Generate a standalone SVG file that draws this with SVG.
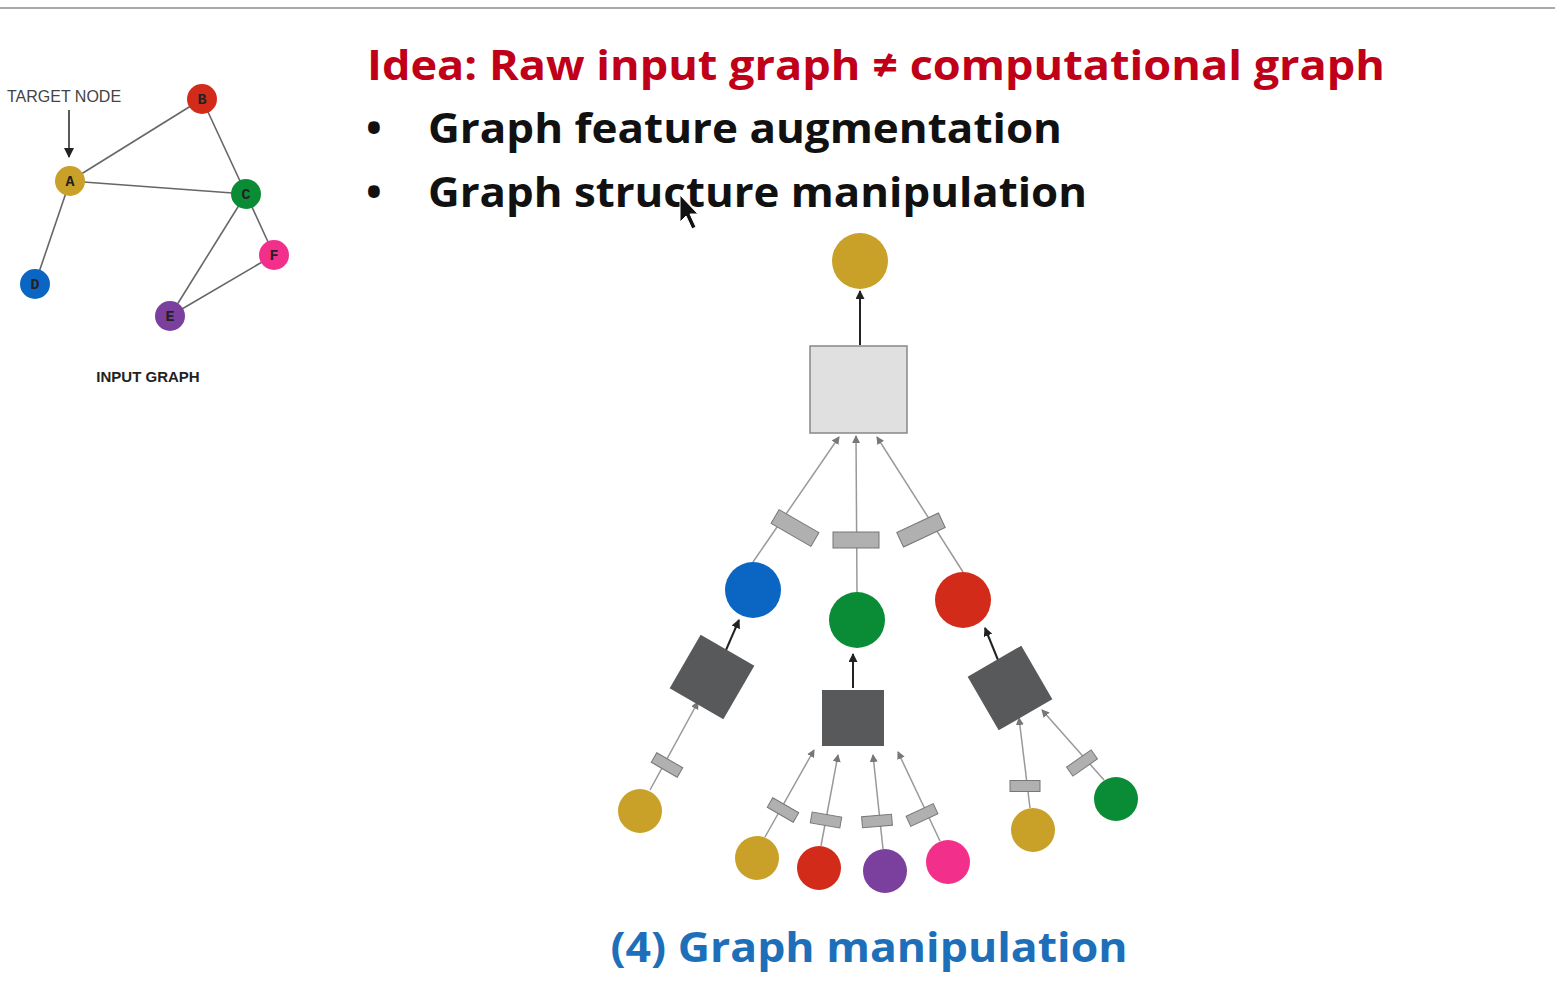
<svg xmlns="http://www.w3.org/2000/svg" width="1555" height="985" viewBox="0 0 1555 985">
<style>
.ge{stroke:#666;stroke-width:1.6;fill:none}
.lt{font-family:"Liberation Mono",monospace;font-weight:bold;font-size:15px;text-anchor:middle;fill:#222}
.c{stroke:#999;stroke-width:1.5;fill:none;marker-end:url(#ga)}
.d{stroke:#222;stroke-width:2;fill:none;marker-end:url(#da)}
.lab{fill:#b0b0b0;stroke:#777;stroke-width:1}
.sq{fill:#58595b}
.h{font-family:"Open Sans","Liberation Sans",sans-serif;font-weight:bold;font-size:42px}
</style>
<defs>
<marker id="ga" markerWidth="8" markerHeight="8" refX="7" refY="4" orient="auto" markerUnits="userSpaceOnUse"><path d="M0,0L8,4L0,8z" fill="#777"/></marker>
<marker id="da" markerWidth="9" markerHeight="9" refX="8" refY="4.5" orient="auto" markerUnits="userSpaceOnUse"><path d="M0,0L9,4.5L0,9z" fill="#222"/></marker>
<marker id="ka" markerWidth="10" markerHeight="10" refX="9" refY="5" orient="auto" markerUnits="userSpaceOnUse"><path d="M0,0L10,5L0,10z" fill="#222"/></marker>
</defs>
<rect width="1555" height="985" fill="#fff"/>
<line x1="0" y1="8" x2="1555" y2="8" stroke="#aaa" stroke-width="2"/>

<g id="input-graph">
<g class="ge"><line x1="70" y1="181" x2="202" y2="99"/><line x1="70" y1="181" x2="246" y2="194"/><line x1="202" y1="99" x2="246" y2="194"/><line x1="70" y1="181" x2="35" y2="284"/><line x1="246" y1="194" x2="274" y2="255"/><line x1="246" y1="194" x2="170" y2="316"/><line x1="274" y1="255" x2="170" y2="316"/></g>
<text x="7" y="102" font-family="Liberation Sans,sans-serif" font-size="16" fill="#444">TARGET NODE</text>
<line x1="69" y1="110" x2="69" y2="157" stroke="#222" stroke-width="1.5" marker-end="url(#ka)"/>
<g id="nB"><circle cx="202" cy="99" r="15" fill="#d22b1a"/><text class="lt" x="202" y="104">B</text></g>
<g id="nA"><circle cx="70" cy="181" r="15" fill="#c9a028"/><text class="lt" x="70" y="186">A</text></g>
<g id="nC"><circle cx="246" cy="194" r="15" fill="#0a8c36"/><text class="lt" x="246" y="199">C</text></g>
<g id="nF"><circle cx="274" cy="255" r="15" fill="#f2308c"/><text class="lt" x="274" y="260">F</text></g>
<g id="nD"><circle cx="35" cy="284" r="15" fill="#0a66c2"/><text class="lt" x="35" y="289">D</text></g>
<g id="nE"><circle cx="170" cy="316" r="15" fill="#7b3f9e"/><text class="lt" x="170" y="321">E</text></g>
<text x="148" y="382" text-anchor="middle" font-family="Liberation Sans,sans-serif" font-weight="bold" font-size="15" fill="#222">INPUT GRAPH</text>
</g>

<text class="h" x="367" y="80" fill="#c00018" textLength="1018" lengthAdjust="spacingAndGlyphs">Idea: Raw input graph ≠ computational graph</text>
<text class="h" x="366" y="143" fill="#111">•</text>
<text class="h" x="428" y="143" fill="#111" textLength="634" lengthAdjust="spacingAndGlyphs">Graph feature augmentation</text>
<text class="h" x="366" y="207" fill="#111">•</text>
<text class="h" x="428" y="207" fill="#111" textLength="659" lengthAdjust="spacingAndGlyphs">Graph structure manipulation</text>
<path d="M680,195L680,222L686,216L692,229L696,227L690,214L698,214Z" fill="#111" stroke="#fff" stroke-width="1"/>

<g id="connectors">
<line class="d" x1="860" y1="345" x2="860" y2="291"/>
<line class="c" x1="753" y1="562" x2="839" y2="437"/>
<line class="c" x1="857" y1="592" x2="856" y2="436"/>
<line class="c" x1="963" y1="572" x2="877" y2="437"/>
<line class="d" x1="726" y1="650" x2="739" y2="620"/>
<line class="d" x1="853" y1="688" x2="853" y2="654"/>
<line class="d" x1="998" y1="660" x2="985" y2="628"/>
<line class="c" x1="650" y1="790" x2="698" y2="702"/>
<line class="c" x1="765" y1="837" x2="814" y2="750"/>
<line class="c" x1="821" y1="846" x2="838" y2="755"/>
<line class="c" x1="883" y1="849" x2="873" y2="755"/>
<line class="c" x1="940" y1="841" x2="898" y2="752"/>
<line class="c" x1="1030" y1="808" x2="1019" y2="718"/>
<line class="c" x1="1104" y1="780" x2="1042" y2="710"/>
</g>

<g id="top"><circle cx="860" cy="261" r="28" fill="#c9a028"/></g>
<g id="agg"><rect x="810" y="346" width="97" height="87" fill="#e0e0e0" stroke="#888" stroke-width="1.5"/></g>
<g id="labels1">
<rect class="lab" x="-23" y="-8" width="46" height="16" transform="translate(795,528) rotate(30)"/>
<rect class="lab" x="-23" y="-8" width="46" height="16" transform="translate(856,540)"/>
<rect class="lab" x="-23" y="-8" width="46" height="16" transform="translate(921,530) rotate(-25)"/>
</g>
<g id="blue1"><circle cx="753" cy="590" r="28" fill="#0a66c2"/></g>
<g id="green1"><circle cx="857" cy="620" r="28" fill="#0a8c36"/></g>
<g id="red1"><circle cx="963" cy="600" r="28" fill="#d22b1a"/></g>
<g id="sqL"><rect class="sq" x="-31" y="-31" width="62" height="62" transform="translate(712,677) rotate(30)"/></g>
<g id="sqC"><rect class="sq" x="822" y="690" width="62" height="56"/></g>
<g id="sqR"><rect class="sq" x="-31" y="-31" width="62" height="62" transform="translate(1010,688) rotate(-30)"/></g>
<g id="labels2">
<rect class="lab" x="-15" y="-5.5" width="30" height="11" transform="translate(667,765) rotate(30)"/>
<rect class="lab" x="-15" y="-5.5" width="30" height="11" transform="translate(783,810) rotate(30)"/>
<rect class="lab" x="-15" y="-5.5" width="30" height="11" transform="translate(826,820) rotate(10)"/>
<rect class="lab" x="-15" y="-5.5" width="30" height="11" transform="translate(877,821) rotate(-5)"/>
<rect class="lab" x="-15" y="-5.5" width="30" height="11" transform="translate(922,815) rotate(-25)"/>
<rect class="lab" x="-15" y="-5.5" width="30" height="11" transform="translate(1025,786)"/>
<rect class="lab" x="-15" y="-5.5" width="30" height="11" transform="translate(1082,763) rotate(-35)"/>
</g>
<g id="leafL"><circle cx="640" cy="811" r="22" fill="#c9a028"/></g>
<g id="leaf1"><circle cx="757" cy="858" r="22" fill="#c9a028"/></g>
<g id="leaf2"><circle cx="819" cy="868" r="22" fill="#d22b1a"/></g>
<g id="leaf3"><circle cx="885" cy="871" r="22" fill="#7b3f9e"/></g>
<g id="leaf4"><circle cx="948" cy="862" r="22" fill="#f2308c"/></g>
<g id="leaf5"><circle cx="1033" cy="830" r="22" fill="#c9a028"/></g>
<g id="leaf6"><circle cx="1116" cy="799" r="22" fill="#0a8c36"/></g>

<text class="h" x="869" y="962" text-anchor="middle" fill="#1c6fb8" textLength="517" lengthAdjust="spacingAndGlyphs">(4) Graph manipulation</text>
</svg>
